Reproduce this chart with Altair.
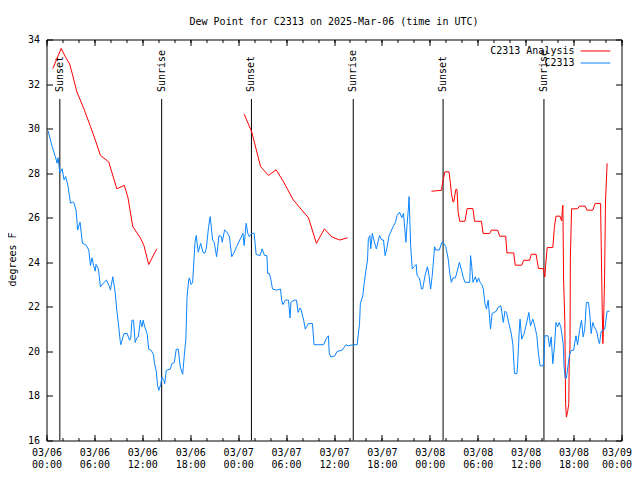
import altair as alt
import pandas as pd

FONT = "DejaVu Sans Mono"

# ---- data (hours since 2025-03-06 00:00 UTC) ----
obs_hours = [0.2, 0.7, 1.1, 1.33, 1.45, 1.67, 1.95, 2.2, 2.4, 2.7, 3.0, 3.25, 3.4, 3.7, 3.9, 4.2, 4.5, 4.9,
             5.3, 5.5, 5.7, 5.9, 6.1, 6.2, 6.5, 6.75, 7.2, 7.5, 7.9, 8.0, 8.3, 8.6, 8.8, 9.0, 9.25, 9.3, 9.7,
             10.1, 10.4, 10.55, 10.7, 10.9, 11.1, 11.3, 11.5, 11.75, 11.95, 12.1, 12.3, 12.6, 12.8, 13.1, 13.4,
             13.5, 13.75, 13.9, 14.05, 14.3, 14.45, 14.7, 14.8, 15.0, 15.5, 15.7, 16.0, 16.25, 16.5, 16.75,
             17.05, 17.25, 17.45, 17.6, 17.8, 17.9, 18.1, 18.3, 18.4, 18.6, 18.75, 19.0, 19.3, 19.6, 19.8, 20.0,
             20.3, 20.5, 20.8, 21.0, 21.3, 21.6, 21.9, 22.0, 22.3, 22.6, 22.9, 23.2, 23.5, 23.8, 24.2, 24.6,
             24.75, 25.0, 25.2, 25.4, 25.7, 26.0, 26.25, 26.75, 27.0, 27.3, 27.6, 27.7, 27.9, 28.1, 28.3, 28.8,
             29.3, 29.45, 29.6, 29.9, 30.3, 30.5, 30.6, 31.0, 31.3, 31.5, 31.75, 31.9, 32.2, 32.4, 32.8, 33.3,
             33.5, 34.0, 34.7, 35.0, 35.3, 35.4, 35.6, 36.1, 36.4, 37.0, 37.5, 37.8, 38.4, 38.9, 39.2, 39.3,
             39.6, 39.8, 40.0, 40.2, 40.3, 40.5, 40.6, 40.8, 41.0, 41.3, 41.7, 42.0, 42.2, 42.4, 42.6, 42.9,
             43.1, 43.4, 43.7, 43.9, 44.2, 44.5, 44.7, 44.9, 45.0, 45.15, 45.3, 45.4, 45.6, 45.8, 46.0, 46.3,
             46.4, 46.7, 46.95, 47.1, 47.4, 47.7, 47.9, 48.1, 48.3, 48.6, 48.75, 49.2, 49.5, 49.65, 50.0, 50.3,
             50.5, 50.7, 50.9, 51.2, 51.5, 51.7, 52.0, 52.2, 52.4, 53.0, 53.1, 53.25, 53.4, 53.7, 53.9, 54.1,
             54.3, 54.5, 54.7, 54.9, 55.1, 55.3, 55.4, 55.6, 55.8, 56.3, 56.6, 56.9, 57.2, 57.4, 57.6, 57.9,
             58.2, 58.4, 58.6, 58.9, 59.0, 59.2, 59.3, 59.5, 59.8, 60.0, 60.2, 60.4, 60.6, 60.9, 61.1, 61.4,
             61.6, 61.8, 62.2, 62.3, 62.4, 62.8, 63.0, 63.2, 63.4, 63.6, 63.8, 64.0, 64.2, 64.4, 64.7, 64.8,
             64.95, 65.1, 65.3, 65.5, 65.7, 66.0, 66.3, 66.5, 66.75, 67.0, 67.2, 67.4, 67.6, 67.85, 68.0, 68.2,
             68.4, 68.6, 68.9, 69.1, 69.25, 69.45, 69.7, 69.9, 70.0, 70.2, 70.5]
obs_values = [29.9, 29.2, 28.75, 28.45, 28.7, 28.0, 28.2, 27.7, 27.85, 27.4, 26.65, 26.7, 26.7, 26.35, 25.45,
              25.8, 24.85, 24.8, 24.55, 23.85, 24.2, 23.85, 23.6, 23.9, 23.7, 22.9, 23.1, 23.2, 22.9, 22.75,
              23.35, 22.65, 21.85, 21.25, 20.4, 20.3, 20.8, 20.8, 20.5, 20.6, 21.4, 21.4, 20.4, 20.6, 20.65,
              21.4, 21.1, 21.4, 21.1, 20.8, 20.1, 20.05, 19.85, 19.5, 19.1, 18.5, 18.25, 18.5, 18.85, 18.7,
              18.55, 19.15, 19.2, 19.45, 19.5, 20.1, 20.1, 19.3, 18.97, 19.8, 20.55, 22.45, 23.2, 23.3, 23.0,
              23.1, 23.7, 24.9, 25.2, 24.45, 24.85, 24.45, 24.4, 24.6, 25.6, 26.05, 25.0, 24.9, 24.25, 25.2,
              25.15, 24.9, 25.45, 25.35, 25.15, 24.25, 24.45, 24.7, 25.0, 25.3, 24.75, 25.75, 25.3, 25.15,
              25.3, 25.3, 24.35, 24.3, 24.6, 24.3, 24.3, 23.5, 23.5, 23.2, 22.8, 22.75, 22.8, 22.3, 22.1, 22.3,
              22.3, 21.5, 22.2, 22.3, 22.3, 21.75, 21.95, 21.85, 21.4, 21.0, 21.25, 21.25, 20.3, 20.3, 20.3,
              20.55, 20.7, 19.95, 19.75, 19.8, 20.0, 20.05, 20.3, 20.25, 20.3, 20.3, 21.25, 22.15, 22.5, 23.1,
              23.65, 24.1, 25.05, 25.2, 24.6, 25.3, 25.0, 24.6, 25.2, 25.0, 25.0, 24.3, 24.6, 25.2, 25.35,
              25.6, 25.8, 26.1, 26.25, 26.0, 26.2, 25.35, 24.9, 25.7, 26.35, 26.95, 24.75, 23.7, 23.8, 23.9,
              23.4, 23.3, 22.8, 22.8, 23.4, 23.8, 23.4, 22.8, 23.4, 24.7, 24.55, 24.55, 24.9, 24.9, 24.7,
              24.15, 23.5, 23.1, 23.3, 23.3, 23.7, 24.0, 23.6, 23.3, 23.1, 23.1, 24.3, 23.8, 23.1, 23.35,
              23.1, 23.3, 23.1, 23.0, 22.8, 22.15, 21.9, 22.3, 21.9, 21.0, 21.7, 21.8, 22.0, 22.05, 21.3,
              21.8, 21.75, 21.25, 20.8, 20.3, 19.0, 19.0, 19.45, 20.95, 21.45, 20.55, 20.8, 21.1, 21.4, 21.75,
              21.15, 21.45, 21.2, 20.7, 19.9, 19.35, 19.35, 19.7, 20.7, 20.7, 20.2, 20.65, 19.45, 20.2, 21.3,
              21.1, 21.3, 21.1, 20.35, 19.35, 18.8, 18.8, 19.35, 19.85, 20.05, 20.05, 20.7, 20.3, 20.95, 21.4,
              20.65, 21.0, 22.2, 22.2, 21.8, 20.8, 21.3, 21.1, 20.9, 20.5, 20.35, 20.9, 20.95, 21.0, 21.25,
              21.8, 21.8]

ana1_hours = [0.8, 1.83, 2.4, 2.9, 3.2, 3.8, 4.67, 5.5, 6.1, 6.75, 7.8, 8.8, 9.75, 10.2, 10.8, 11.75, 12.2,
              12.8, 13.8]
ana1_values = [32.7, 33.6, 33.2, 32.9, 32.5, 31.65, 30.9, 30.1, 29.5, 28.8, 28.5, 27.3, 27.45, 26.9, 25.6,
               25.1, 24.75, 23.9, 24.6]
ana2_hours = [24.75, 25.7, 26.8, 27.8, 28.75, 29.7, 30.9, 31.96, 32.8, 33.8, 34.8, 35.7, 36.7, 37.7]
ana2_values = [30.65, 29.85, 28.3, 27.9, 28.15, 27.6, 26.8, 26.35, 26.0, 24.85, 25.5, 25.15, 25.0, 25.1]
ana3_hours = [48.2, 49.46, 49.58, 49.88, 50.4, 50.58, 50.7, 50.9, 51.0, 51.25, 51.4, 51.54, 51.75, 52.4,
              52.67, 53.4, 53.6, 54.46, 54.67, 55.5, 55.7, 56.5, 56.75, 57.5, 57.65, 58.5, 58.7, 59.5,
              59.75, 60.5, 60.7, 61.3, 61.6, 62.2, 62.4, 62.5, 62.7, 63.4, 63.6, 63.8, 64.3, 64.5, 64.6,
              64.66, 64.75, 64.9, 65.0, 65.1, 65.25, 65.4, 65.45, 65.55, 65.6, 65.75, 66.5, 66.75, 67.45,
              67.67, 68.4, 68.7, 69.38, 69.45, 69.58, 69.67, 69.75, 69.88, 70.0, 70.2]
ana3_values = [27.19, 27.23, 27.54, 28.06, 28.06, 27.54, 27.09, 26.71, 26.71, 27.27, 27.27, 26.26, 25.84,
               25.84, 26.41, 26.41, 25.84, 25.84, 25.29, 25.29, 25.44, 25.44, 25.17, 25.17, 24.42, 24.42,
               23.87, 23.87, 24.09, 24.09, 24.36, 24.36, 23.72, 23.72, 23.34, 23.87, 24.66, 24.66, 25.59,
               26.07, 26.07, 25.85, 26.4, 26.56, 23.2, 21.4, 17.65, 17.05, 17.3, 17.65, 19.45, 20.2, 24.24,
               26.4, 26.4, 26.52, 26.52, 26.34, 26.34, 26.64, 26.64, 25.06, 21.99, 20.35, 21.2, 23.34,
               26.79, 28.44]

event_hours = [1.67, 14.42, 25.66, 38.41, 49.66, 62.29]
event_labels = ["Sunset", "Sunrise", "Sunset", "Sunrise", "Sunset", "Sunrise"]

series_names = ["C2313 Analysis", "C2313"]
series_colors = ["#ff0000", "#0a84ff"]
y_ticks = list(range(16, 35, 2))

START = pd.Timestamp("2025-03-06T00:00:00Z")


def stamp(h):
    return (START + pd.to_timedelta(h, unit="h")).strftime("%Y-%m-%dT%H:%M:%SZ")


obs_df = pd.DataFrame({"t": [stamp(h) for h in obs_hours], "value": obs_values, "series": "C2313"})
ana_rows = []
for seg, (hs, vs) in enumerate([(ana1_hours, ana1_values), (ana2_hours, ana2_values), (ana3_hours, ana3_values)]):
    for h, v in zip(hs, vs):
        ana_rows.append({"t": stamp(h), "value": v, "series": "C2313 Analysis", "seg": seg})
ana_df = pd.DataFrame(ana_rows)
ev_df = pd.DataFrame({"t": [stamp(h) for h in event_hours], "label": event_labels})


def dt(h):
    return alt.DateTime(year=2025, month=3, date=6 + h // 24, hours=h % 24, utc=True)


major_vals = [dt(h) for h in range(0, 73, 6)]
minor_vals = [dt(h) for h in range(0, 73, 2)]
x_scale = alt.Scale(type="utc", domain=[dt(0), dt(72)])
y_scale = alt.Scale(domain=[16, 34], nice=False, zero=False)

common = dict(domain=False, grid=False, tickColor="black", tickWidth=1, title=None)
ax_bottom_major = alt.Axis(orient="bottom", values=major_vals, tickSize=6, offset=-6,
                           labelExpr="[utcFormat(datum.value, '%m/%d'), utcFormat(datum.value, '%H:%M')]",
                           labelFlush=False, labelOverlap=False, labelPadding=7, labelBaseline="top",
                           labelAlign="center", labelLineHeight=11.5, labelFont=FONT, labelFontSize=10,
                           labelColor="black",
                           labelOffset={"condition": {"test": "datum.value > utc(2025, 2, 8, 23, 0)",
                                                      "value": -5}, "value": 0},
                           **common)
ax_bottom_minor = alt.Axis(orient="bottom", values=minor_vals, tickSize=3, offset=-3, labels=False, **common)
ax_top_major = alt.Axis(orient="top", values=major_vals, tickSize=6, offset=-6, labels=False, **common)
ax_top_minor = alt.Axis(orient="top", values=minor_vals, tickSize=3, offset=-3, labels=False, **common)
ax_left = alt.Axis(orient="left", values=y_ticks, tickSize=6, offset=-6, domain=False, grid=False,
                   tickColor="black", labelPadding=7, labelFont=FONT, labelFontSize=10, labelColor="black",
                   labelBaseline="middle",
                   title="degrees F", titleFont=FONT, titleFontSize=10, titleFontWeight="normal",
                   titleColor="black", titleAngle=270, titleX=-40, titleY=219.5, titleAlign="center",
                   titleBaseline="middle")
ax_right = alt.Axis(orient="right", values=y_ticks, tickSize=6, offset=-6, labels=False, **common)

# a wide horizontal line symbol drawn from a small symbol size, so rows stay 12px apart
color_legend = alt.Legend(orient="none", legendX=544, legendY=6.5, title=None, symbolType="M-3.3,0H3.3",
                          symbolSize=81, symbolStrokeWidth=1, rowPadding=2,
                          labelOffset={"expr": "-26"}, labelAlign="right", labelFont=FONT, labelFontSize=10,
                          labelColor="black", padding=0)
color_enc = alt.Color("series:N", scale=alt.Scale(domain=series_names, range=series_colors),
                      legend=color_legend)

rules = alt.Chart(ev_df).mark_rule(color="black", strokeWidth=1).encode(
    x=alt.X("t:T", scale=x_scale, axis=ax_top_major),
    y=alt.value(59.5), y2=alt.value(401))

labels = alt.Chart(ev_df).mark_text(angle=270, align="left", baseline="middle", font=FONT,
                                    fontSize=10, color="black").encode(
    x=alt.X("t:T", scale=x_scale, axis=ax_top_minor),
    y=alt.value(52.5), text="label:N")

ana = alt.Chart(ana_df).mark_line(strokeWidth=1).encode(
    x=alt.X("t:T", scale=x_scale, axis=ax_bottom_minor),
    y=alt.Y("value:Q", scale=y_scale, axis=ax_right),
    color=color_enc, detail="seg:N")

obs = alt.Chart(obs_df).mark_line(strokeWidth=1).encode(
    x=alt.X("t:T", scale=x_scale, axis=ax_bottom_major),
    y=alt.Y("value:Q", scale=y_scale, axis=ax_left),
    color=color_enc)

chart = alt.layer(rules, labels, ana, obs).resolve_axis(
    x="independent", y="independent"
).properties(
    width=575, height=401,
    title=alt.Title("Dew Point for C2313 on 2025-Mar-06 (time in UTC)", font=FONT, fontSize=10,
                    fontWeight="normal", color="black", anchor="middle", frame="group",
                    baseline="alphabetic", offset=0),
    autosize=alt.AutoSizeParams(type="none"),
    padding={"left": 38.5, "top": 31.5, "right": 10, "bottom": 31.5},
    background="white",
).configure_view(stroke="black", strokeWidth=1)

chart.save("out.html", embed_options={"renderer": "svg", "actions": False})
